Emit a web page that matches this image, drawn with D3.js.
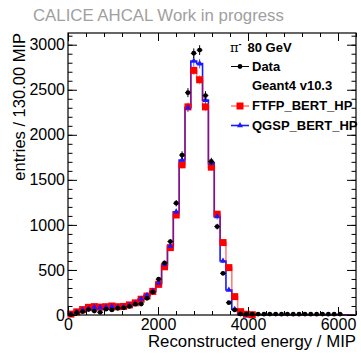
<!DOCTYPE html>
<html>
<head>
<meta charset="utf-8">
<script src="https://cdn.jsdelivr.net/npm/d3@7"></script>
<style>
  body { margin: 0; background: #fff; }
  svg { display: block; }
  text { font-family: "Liberation Sans", Arial, sans-serif; }
</style>
</head>
<body>
<div id="chart"></div>
<script>
// histogram: 130 MIP bins starting at 0
const binWidth = 130;

const dataCounts = [5, 25, 37, 60, 44, 30, 65, 56, 75, 80, 95, 120, 122, 185, 255, 398, 578, 815, 1241, 1775,
  2468, 2905, 2940, 2435, 1704, 981, 463, 137, 56, 11, 10, 9, 10, 9, 10, 10, 9, 10, 9, 9, 10, 9, 9, 10, 9, 9, 10];

const ftfpCounts = [10, 35, 60, 85, 93, 88, 92, 100, 92, 95, 112, 135, 175, 210, 262, 340, 535, 748, 1110, 1667,
  2310, 2715, 2611, 2310, 1641, 1119, 804, 526, 204, 37, 8, 3, 1, 1, 0, 0, 0, 0, 0, 0, 0, 0, 0, 0, 0, 0, 0, 0, 0];

const qgspCounts = [8, 32, 55, 68, 85, 82, 85, 95, 85, 90, 108, 128, 178, 218, 267, 355, 560, 765, 1145, 1720,
  2300, 2820, 2790, 2385, 1688, 1093, 600, 278, 63, 8, 2, 1, 0, 0, 0, 0, 0, 0, 0, 0, 0, 0, 0, 0, 0, 0, 0, 0, 0];

const xTicks = [0, 2000, 4000, 6000];
const yTicks = [0, 500, 1000, 1500, 2000, 2500, 3000];

const width = 361, height = 354;
const margin = { top: 33, right: 5, bottom: 39, left: 68 };

const svg = d3.select('#chart').append('svg')
  .attr('width', width)
  .attr('height', height);

const x = d3.scaleLinear().domain([0, 6400]).range([margin.left, width - margin.right]);
const y = d3.scaleLinear().domain([0, 3130]).range([height - margin.bottom, margin.top]);

const plot = svg.append('g');

function stepPath(counts) {
  const pts = counts.map((v, i) => [i * binWidth, v]);
  pts.push([counts.length * binWidth, counts[counts.length - 1]]);
  return d3.line().curve(d3.curveStepAfter).x(d => x(d[0])).y(d => y(d[1]))(pts);
}
const center = i => x(i * binWidth + binWidth / 2);

// blue line solid, red line translucent on top -> purple where they overlap
plot.append('path').attr('d', stepPath(qgspCounts))
  .attr('fill', 'none').attr('stroke', '#1a1aff').attr('stroke-width', 1.6);
plot.append('path').attr('d', stepPath(ftfpCounts))
  .attr('fill', 'none').attr('stroke', 'rgba(255,0,0,0.5)').attr('stroke-width', 1.6);

// sim error bars
function simErrors(counts, color) {
  plot.append('g').selectAll('line')
    .data(counts.map((v, i) => ({ v, i })).filter(d => d.v > 0))
    .enter().append('line')
    .attr('x1', d => center(d.i)).attr('x2', d => center(d.i))
    .attr('y1', d => y(d.v + Math.sqrt(d.v))).attr('y2', d => y(Math.max(0, d.v - Math.sqrt(d.v))))
    .attr('stroke', color).attr('stroke-width', 1);
}
simErrors(ftfpCounts, 'rgba(255,0,0,0.5)');
simErrors(qgspCounts, 'rgba(26,26,255,0.7)');

// red squares
plot.append('g').selectAll('rect')
  .data(ftfpCounts.map((v, i) => ({ v, i })).filter(d => d.i < 32))
  .enter().append('rect')
  .attr('x', d => center(d.i) - 3.5).attr('y', d => y(d.v) - 3.5)
  .attr('width', 7).attr('height', 7)
  .attr('fill', '#ff0000');

// blue triangles
const tri = d3.symbol().type(d3.symbolTriangle).size(16);
plot.append('g').selectAll('path')
  .data(qgspCounts.map((v, i) => ({ v, i })).filter(d => d.i < 31))
  .enter().append('path')
  .attr('d', tri)
  .attr('transform', d => `translate(${center(d.i)},${y(d.v)})`)
  .attr('fill', '#1a1aff');

// data points with errors
const dataG = plot.append('g');
const dPts = dataCounts.map((v, i) => ({ v, i }));
dataG.selectAll('line.ey').data(dPts).enter().append('line')
  .attr('x1', d => center(d.i)).attr('x2', d => center(d.i))
  .attr('y1', d => y(d.v + Math.sqrt(d.v))).attr('y2', d => y(Math.max(0, d.v - Math.sqrt(d.v))))
  .attr('stroke', '#000').attr('stroke-width', 1);
dataG.selectAll('line.ex').data(dPts).enter().append('line')
  .attr('x1', d => x(d.i * binWidth)).attr('x2', d => x((d.i + 1) * binWidth))
  .attr('y1', d => y(d.v)).attr('y2', d => y(d.v))
  .attr('stroke', '#000').attr('stroke-width', 1);
dataG.selectAll('circle').data(dPts).enter().append('circle')
  .attr('cx', d => center(d.i)).attr('cy', d => y(d.v))
  .attr('r', 2.4).attr('fill', '#000');

// axes: ROOT style, ticks inside on all four sides
const x0 = margin.left, x1 = width - margin.right;
const y0 = height - margin.bottom, y1 = margin.top;
const xMinor = d3.range(0, 6401, 400);
const yMinor = d3.range(0, 3131, 100);

function styleAxis(g) {
  g.selectAll('.domain').remove();
  g.selectAll('line').attr('stroke', '#000');
  g.selectAll('text').attr('font-size', 16).attr('fill', '#000')
    .style('font-family', '"Liberation Sans", Arial, sans-serif');
}

svg.append('g').attr('transform', `translate(0,${y0})`)
  .call(d3.axisBottom(x).tickValues(xTicks).tickSizeInner(-8).tickSizeOuter(0).tickPadding(4).tickFormat(d3.format('d')))
  .call(styleAxis);
svg.append('g').attr('transform', `translate(0,${y0})`)
  .call(d3.axisBottom(x).tickValues(xMinor).tickSizeInner(-4).tickSizeOuter(0).tickFormat(''))
  .call(styleAxis);
svg.append('g').attr('transform', `translate(0,${y1})`)
  .call(d3.axisTop(x).tickValues(xTicks).tickSizeInner(-8).tickSizeOuter(0).tickFormat(''))
  .call(styleAxis);
svg.append('g').attr('transform', `translate(0,${y1})`)
  .call(d3.axisTop(x).tickValues(xMinor).tickSizeInner(-4).tickSizeOuter(0).tickFormat(''))
  .call(styleAxis);

svg.append('g').attr('transform', `translate(${x0},0)`)
  .call(d3.axisLeft(y).tickValues(yTicks).tickSizeInner(-9).tickSizeOuter(0).tickPadding(3).tickFormat(d3.format('d')))
  .call(styleAxis);
svg.append('g').attr('transform', `translate(${x0},0)`)
  .call(d3.axisLeft(y).tickValues(yMinor).tickSizeInner(-4.5).tickSizeOuter(0).tickFormat(''))
  .call(styleAxis);
svg.append('g').attr('transform', `translate(${x1},0)`)
  .call(d3.axisRight(y).tickValues(yTicks).tickSizeInner(-9).tickSizeOuter(0).tickFormat(''))
  .call(styleAxis);
svg.append('g').attr('transform', `translate(${x1},0)`)
  .call(d3.axisRight(y).tickValues(yMinor).tickSizeInner(-4.5).tickSizeOuter(0).tickFormat(''))
  .call(styleAxis);

svg.append('rect')
  .attr('x', x0).attr('y', y1).attr('width', x1 - x0).attr('height', y0 - y1)
  .attr('fill', 'none').attr('stroke', '#000').attr('stroke-width', 1.2);

// titles
svg.append('text')
  .attr('x', 33).attr('y', 21)
  .attr('font-size', 16.8).attr('fill', '#a0a0a0')
  .text('CALICE AHCAL Work in progress');

svg.append('text')
  .attr('x', x1).attr('y', 347)
  .attr('text-anchor', 'end').attr('font-size', 16.8)
  .text('Reconstructed energy / MIP');

svg.append('text')
  .attr('transform', `translate(25,${y1}) rotate(-90)`)
  .attr('text-anchor', 'end').attr('font-size', 16.5)
  .text('entries / 130.00 MIP');

// legend
const leg = svg.append('g').attr('font-size', 13).attr('font-weight', 'bold');
const head = leg.append('text').attr('x', 230).attr('y', 52);
head.append('tspan').attr('font-weight', 'normal').attr('font-family', '"DejaVu Serif", serif').text('π');
head.append('tspan').attr('font-size', 9).attr('dy', -5).text('-');
head.append('tspan').attr('dy', 5).attr('dx', 6).text('80 GeV');

const lx0 = 231, lx1 = 249, lm = 240, tx = 252;
// Data
leg.append('line').attr('x1', lx0).attr('x2', lx1).attr('y1', 66.5).attr('y2', 66.5).attr('stroke', '#000');
leg.append('circle').attr('cx', lm).attr('cy', 66.5).attr('r', 2.4).attr('fill', '#000');
leg.append('text').attr('x', tx).attr('y', 71).text('Data');
leg.append('text').attr('x', tx).attr('y', 90).text('Geant4 v10.3');
// FTFP
leg.append('line').attr('x1', lx0).attr('x2', lx1).attr('y1', 106).attr('y2', 106).attr('stroke', 'rgba(255,0,0,0.5)').attr('stroke-width', 1.6);
leg.append('rect').attr('x', lm - 3.5).attr('y', 102.5).attr('width', 7).attr('height', 7).attr('fill', '#ff0000');
leg.append('text').attr('x', tx).attr('y', 110).text('FTFP_BERT_HP');
// QGSP
leg.append('line').attr('x1', lx0).attr('x2', lx1).attr('y1', 125.5).attr('y2', 125.5).attr('stroke', '#1a1aff').attr('stroke-width', 1.6);
leg.append('path').attr('d', tri).attr('transform', `translate(${lm},125.5)`).attr('fill', '#1a1aff');
leg.append('text').attr('x', tx).attr('y', 130).text('QGSP_BERT_HP');
</script>
</body>
</html>
